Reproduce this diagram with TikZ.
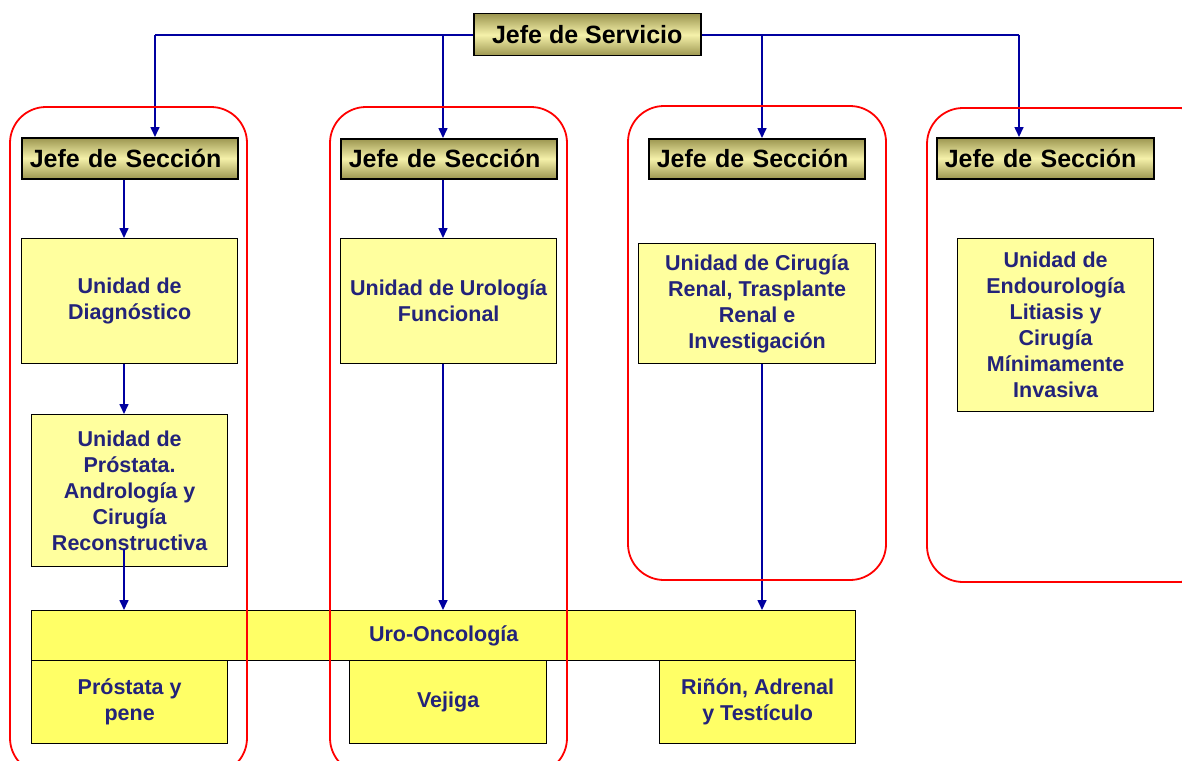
\documentclass[tikz,border=0pt]{standalone}
\usepackage{fontspec}
\setmainfont{Liberation Sans}
\usetikzlibrary{arrows.meta}
\definecolor{navy}{HTML}{23237A}
\definecolor{arrblue}{HTML}{0000A0}
\definecolor{paleyel}{HTML}{FFFF9E}
\definecolor{yel}{HTML}{FFFF66}
\definecolor{oliveedge}{HTML}{9C9650}
\definecolor{olivemid}{HTML}{F5F1AA}
\tikzset{
  headbox/.style={draw=black, line width=1.5pt, top color=oliveedge, bottom color=oliveedge, middle color=olivemid, anchor=north west, inner sep=0pt, font=\fontsize{25}{28}\selectfont\bfseries, text=black},
  unitbox/.style={draw=black, line width=1.3pt, fill=paleyel, anchor=north west, inner sep=0pt, align=center, font=\fontsize{21.5}{26}\selectfont\bfseries, text=navy},
  onco/.style={draw=black, line width=1.3pt, fill=yel, anchor=north west, inner sep=0pt, align=center, font=\fontsize{21.5}{26}\selectfont\bfseries, text=navy},
  group/.style={draw=red, line width=1.8pt, rounded corners=36pt},
  link/.style={draw=arrblue, line width=1.6pt},
  arr/.style={link, -{Triangle[length=10pt,width=9pt]}},
}
\begin{document}
\begin{tikzpicture}[x=1pt,y=-1pt]
\useasboundingbox (0,0) rectangle (1182,760);
\clip (0,0) rectangle (1182,760);
\fill[white] (0,0) rectangle (1182,760);

% coordinates for connector x positions
\coordinate (t1) at (155,35);
\coordinate (t2) at (443,35);
\coordinate (t3) at (762,35);
\coordinate (t4) at (1019,35);
\coordinate (c1) at (124,0);
\coordinate (c2) at (443,0);
\coordinate (c3) at (762,0);

% top
\draw[link] (t1) -- (t4);
\node[headbox, minimum width=227pt, minimum height=42pt, align=center] (serv) at (473,13) {Jefe de Servicio};

% section heads
\node[headbox, minimum width=216pt, minimum height=41pt, text width=200pt, align=left] (s1) at (21,137) {Jefe de Sección};
\node[headbox, minimum width=216pt, minimum height=40pt, text width=200pt, align=left] (s2) at (340,138) {Jefe de Sección};
\node[headbox, minimum width=216pt, minimum height=40pt, text width=200pt, align=left] (s3) at (648,138) {Jefe de Sección};
\node[headbox, minimum width=217pt, minimum height=41pt, text width=201pt, align=left] (s4) at (936,137) {Jefe de Sección};

% units
\node[unitbox, minimum width=216pt, minimum height=125pt] (diag) at (21,238) {Unidad de\\Diagnóstico};
\node[unitbox, minimum width=216pt, minimum height=125pt] (func) at (340,238) {Unidad de Urología\\Funcional};
\node[unitbox, minimum width=237pt, minimum height=120pt] (renal) at (638,243) {Unidad de Cirugía\\Renal, Trasplante\\Renal e\\Investigación};
\node[unitbox, minimum width=196pt, minimum height=173pt] (endo) at (957,238) {Unidad de\\Endourología\\Litiasis y\\Cirugía\\Mínimamente\\Invasiva};
\node[unitbox, minimum width=196pt, minimum height=152pt] (pros) at (31,414) {Unidad de\\Próstata.\\Andrología y\\Cirugía\\Reconstructiva};

% uro-oncologia
\node[onco, minimum width=824pt, minimum height=50pt] (uro) at (31,610) {Uro-Oncología};
\node[onco, minimum width=196pt, minimum height=83pt] (pp) at (31,660) {Próstata y\\pene};
\node[onco, minimum width=197pt, minimum height=83pt] (vej) at (349,660) {Vejiga};
\node[onco, minimum width=196pt, minimum height=83pt] (rin) at (659,660) {Riñón, Adrenal\\y Testículo};

% connectors from top
\draw[arr] (t1) -- (t1 |- s1.north);
\draw[arr] (t2) -- (t2 |- s2.north);
\draw[arr] (t3) -- (t3 |- s3.north);
\draw[arr] (t4) -- (t4 |- s4.north);

% inner connectors
\draw[arr] (s1.south -| c1) -- (diag.north -| c1);
\draw[arr] (s2.south -| c2) -- (func.north -| c2);
\draw[arr] (diag.south -| c1) -- (pros.north -| c1);
\draw[arr] ([yshift=18pt]pros.south -| c1) -- (uro.north -| c1);
\draw[arr] (func.south -| c2) -- (uro.north -| c2);
\draw[arr] (renal.south -| c3) -- (uro.north -| c3);

% red groups
\draw[group] (10,107) rectangle (247,774);
\draw[group] (330,107) rectangle (567,774);
\draw[group] (628,106) rectangle (886,580);
\draw[group] (927,108) rectangle (1215,582);
\end{tikzpicture}
\end{document}
